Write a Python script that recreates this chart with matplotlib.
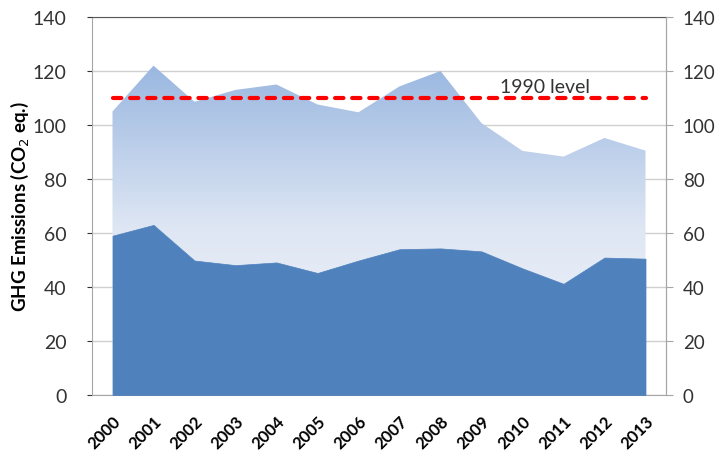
import numpy as np
import matplotlib
matplotlib.use("Agg")
import matplotlib.pyplot as plt
from matplotlib.colors import LinearSegmentedColormap

years = ["2000", "2001", "2002", "2003", "2004", "2005", "2006",
         "2007", "2008", "2009", "2010", "2011", "2012", "2013"]
total = [105, 122, 108.6, 113, 115, 107.6, 104.7, 114.3, 120, 100.7, 90.4, 88.3, 95.2, 90.5]
lower = [59, 63, 49.8, 48.1, 49.1, 45.2, 49.8, 54, 54.3, 53.2, 46.9, 41.2, 50.9, 50.5]
level_1990 = 110
level_label = "1990 level"
yticks = [0, 20, 40, 60, 80, 100, 120, 140]

plt.rcParams['font.family'] = ['Lato', 'DejaVu Sans']

fig = plt.figure(figsize=(7.17, 4.56), dpi=100)
ax = fig.add_axes([92/717, 1-396/456, (666-92)/717, (396-18)/456])

x = np.arange(len(years))
ax.set_xlim(-0.5, len(years) - 0.5)
ax.set_ylim(0, 140)

# gradient upper area
poly = ax.fill_between(x, 0, total, facecolor='none', edgecolor='none', zorder=2)
cmap = LinearSegmentedColormap.from_list('g', ['#f2f5fb', '#dfe7f4', '#9ab7e0'], N=256)
grad = np.linspace(0, 1, 256).reshape(-1, 1)
img = ax.imshow(grad, extent=[-0.5, len(years) - 0.5, 0, max(total)], origin='lower',
                aspect='auto', cmap=cmap, zorder=2, interpolation='bicubic')
path = poly.get_paths()[0]
img.set_clip_path(path, transform=ax.transData)

ax.fill_between(x, 0, lower, facecolor='#4f81bd', edgecolor='#4f81bd', linewidth=0.5, zorder=3)

ax.plot([x[0], x[-1]], [level_1990, level_1990], color='#ff0000', lw=3,
        linestyle=(0, (2.0, 2.1)), dash_capstyle='round', zorder=4)
ax.text(10.54, 112.3, level_label, fontsize=14, color='#333333', ha='center', va='baseline',
        zorder=5)

ax.set_yticks(yticks)
ax.yaxis.grid(True, color='#d0d0d0', lw=1, zorder=0)
ax.set_axisbelow(True)
ax.tick_params(axis='y', left=False, labelsize=14, colors='#333333', pad=15)
ax.set_xticks(x)
ax.set_xticklabels(years, rotation=45, ha='right', rotation_mode='anchor',
                   fontsize=12, fontweight='bold')
ax.tick_params(axis='x', bottom=False, pad=9)

for s in ['left', 'bottom', 'right']:
    ax.spines[s].set_color('#a6a6a6')
ax.spines['top'].set_color('#595959')

ax.set_ylabel('GHG Emissions (CO$_2$ eq.)', fontsize=13.5, fontweight='bold', labelpad=1)

ax2 = ax.twinx()
ax2.set_ylim(0, 140)
ax2.set_yticks(yticks)
ax2.tick_params(axis='y', direction='out', length=5, color='#a6a6a6',
                labelsize=13.5, labelcolor='#333333', pad=7)
for s in ax2.spines.values():
    s.set_visible(False)
ax2.spines['right'].set_visible(True)
ax2.spines['right'].set_color('#a6a6a6')

fig.savefig('out.png', dpi=100, facecolor='white')
